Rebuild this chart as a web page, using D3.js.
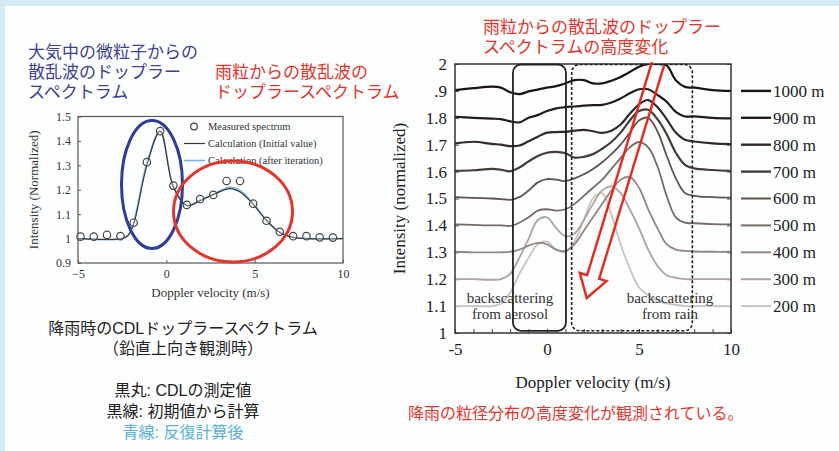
<!DOCTYPE html>
<html>
<head>
<meta charset="utf-8">
<script src="https://cdn.jsdelivr.net/npm/d3@7"></script>
<style>
  html, body { margin: 0; padding: 0; background: #d4eaf4; }
  svg { display: block; }
  .serif { font-family: "Liberation Serif", "DejaVu Serif", serif; }
  .jp { font-family: "Liberation Sans", "Noto Sans CJK JP", sans-serif; }
</style>
</head>
<body>
<div id="chart"></div>
<script>
// 左図: 降雨時のCDLドップラースペクトラム
const leftVel = [-4.86, -4.11, -3.36, -2.6, -1.85, -1.1, -0.35, 0.4, 1.16, 1.91,
                 2.66, 3.41, 4.17, 4.92, 5.67, 6.42, 7.18, 7.93, 8.68, 9.43];
const leftMeasured = [1.008, 1.008, 1.015, 1.01, 1.065, 1.313, 1.44, 1.217, 1.138, 1.162,
                      1.179, 1.236, 1.236, 1.143, 1.073, 1.028, 1.01, 1.01, 1.005, 1.004];
const initVel = [-5, -2.5, -2.2, -1.85, -1.1, -0.35, 0.4, 1.16, 1.91, 2.66, 3.6, 4.2, 4.92, 5.67, 6.42, 7.2, 8, 10];
const initVal = [1.0, 1.0, 1.01, 1.06, 1.3, 1.44, 1.21, 1.135, 1.155, 1.18, 1.205, 1.19, 1.14, 1.075, 1.025, 1.005, 1.0, 1.0];
const iterVel = [-5, -2.5, -2.1, -1.85, -1.1, -0.35, 0.4, 1.16, 1.91, 2.66, 3.6, 4.2, 4.92, 5.67, 6.42, 7.2, 8, 10];
const iterVal = [1.0, 1.0, 1.02, 1.065, 1.31, 1.44, 1.215, 1.137, 1.157, 1.182, 1.21, 1.195, 1.142, 1.075, 1.026, 1.005, 1.0, 1.0];
const leftXTicks = [-5, 0, 5, 10];
const leftYTicks = [0.9, 1, 1.1, 1.2, 1.3, 1.4, 1.5];
const leftLegend = ["Measured spectrum", "Calculation (Initial value)", "Calculation (after iteration)"];

// 右図: 高度別ドップラースペクトラム
const gridVel = [-5, -4, -3, -2.5, -2, -1.5, -1, -0.5, 0, 0.5, 1, 1.5, 2, 2.5, 3, 3.5, 4, 4.5, 5, 5.5, 6, 6.5, 7, 7.5, 8, 9, 10];
const heights = ["1000 m", "900 m", "800 m", "700 m", "600 m", "500 m", "400 m", "300 m", "200 m"];
const baseLevels = [1.9, 1.8, 1.7, 1.6, 1.5, 1.4, 1.3, 1.2, 1.1];
const h1000 = [1.903, 1.91, 1.916, 1.912, 1.895, 1.888, 1.898, 1.905, 1.912, 1.918, 1.928, 1.94, 1.94, 1.928, 1.928, 1.938, 1.952, 1.97, 1.99, 2.0, 2.0, 1.995, 1.94, 1.915, 1.912, 1.903, 1.9];
const h900  = [1.804, 1.8, 1.797, 1.795, 1.787, 1.783, 1.8, 1.81, 1.825, 1.835, 1.84, 1.842, 1.845, 1.847, 1.848, 1.857, 1.872, 1.891, 1.906, 1.906, 1.885, 1.86, 1.822, 1.805, 1.805, 1.8, 1.798];
const h800  = [1.705, 1.711, 1.703, 1.7, 1.695, 1.697, 1.713, 1.73, 1.745, 1.747, 1.748, 1.752, 1.755, 1.75, 1.744, 1.752, 1.775, 1.815, 1.85, 1.866, 1.84, 1.795, 1.745, 1.718, 1.712, 1.705, 1.702];
const h700  = [1.603, 1.605, 1.61, 1.607, 1.601, 1.615, 1.638, 1.658, 1.67, 1.673, 1.668, 1.652, 1.655, 1.665, 1.685, 1.71, 1.745, 1.79, 1.825, 1.83, 1.795, 1.74, 1.67, 1.625, 1.612, 1.606, 1.603];
const h600  = [1.505, 1.502, 1.5, 1.498, 1.495, 1.505, 1.53, 1.56, 1.572, 1.57, 1.565, 1.575, 1.59, 1.61, 1.635, 1.665, 1.7, 1.745, 1.79, 1.8, 1.75, 1.66, 1.575, 1.52, 1.51, 1.505, 1.503];
const h500  = [1.404, 1.402, 1.4, 1.4, 1.398, 1.41, 1.43, 1.455, 1.46, 1.455, 1.46, 1.48, 1.51, 1.54, 1.57, 1.61, 1.65, 1.69, 1.71, 1.69, 1.62, 1.51, 1.43, 1.41, 1.408, 1.405, 1.404];
const h400  = [1.302, 1.3, 1.3, 1.3, 1.302, 1.31, 1.325, 1.335, 1.33, 1.31, 1.305, 1.33, 1.38, 1.43, 1.48, 1.53, 1.57, 1.58, 1.54, 1.46, 1.39, 1.33, 1.31, 1.305, 1.303, 1.302, 1.302];
const h300  = [1.2, 1.2, 1.198, 1.2, 1.22, 1.28, 1.35, 1.42, 1.43, 1.39, 1.36, 1.37, 1.42, 1.48, 1.53, 1.545, 1.52, 1.46, 1.39, 1.31, 1.25, 1.215, 1.205, 1.2, 1.2, 1.2, 1.2];
const h200  = [1.1, 1.1, 1.1, 1.11, 1.15, 1.22, 1.28, 1.33, 1.34, 1.31, 1.3, 1.34, 1.42, 1.5, 1.52, 1.44, 1.33, 1.24, 1.17, 1.14, 1.12, 1.11, 1.105, 1.1, 1.1, 1.1, 1.1];
const heightSeries = [h1000, h900, h800, h700, h600, h500, h400, h300, h200];
const heightColors = ["#1b1512", "#231c19", "#322a26", "#463c37", "#5e534d", "#776b65", "#938782", "#aea39f", "#cac2be"];
const rightXTicks = [-5, 0, 5, 10];
const rightYTicks = [1, 1.1, 1.2, 1.3, 1.4, 1.5, 1.6, 1.7, 1.8, 1.9, 2];
const rightYLabels = ["1", "1.1", "1.2", "1.3", "1.4", "1.5", "1.6", "1.7", "1.8", ".9", "2"];
// 囲み枠と矢印（速度, 強度）
const aerosolBox = [-1.85, 1.03];
const rainBox = [1.34, 7.9];
const arrowFrom = [6.03, 2.0];
const arrowTo = [2.16, 1.13];

const W = 839, H = 451;
const svg = d3.select("#chart").append("svg").attr("width", W).attr("height", H);

// 背景
svg.append("rect").attr("width", W).attr("height", H).attr("fill", "#d4eaf4");
svg.append("rect").attr("x", 5).attr("y", 6).attr("width", W - 5).attr("height", H - 6).attr("fill", "#fdfefe");

// 複数行テキスト（1つの text 要素に tspan で並べる）
function multiline(g, x, y, lines, step, opts) {
  const t = g.append("text").attr("x", x).attr("y", y)
    .attr("font-size", opts.size).attr("text-anchor", opts.anchor || "start");
  lines.forEach((d, i) => {
    const line = Array.isArray(d) ? d : [d, opts.fill];
    t.append("tspan").attr("x", x).attr("y", y + i * step).attr("dy", "0.35em")
      .attr("fill", line[1] || opts.fill).text(line[0]);
  });
  return t;
}

// ---------- 左図 ----------
const xL = d3.scaleLinear().domain([-5, 10]).range([78, 343]);
const yL = d3.scaleLinear().domain([0.9, 1.5]).range([263, 116.5]);
const gL = svg.append("g").attr("class", "serif");

gL.append("g")
  .attr("transform", `translate(0,${yL(0.9)})`)
  .call(d3.axisBottom(xL).tickValues(leftXTicks).tickSizeInner(-3).tickSizeOuter(0).tickPadding(6))
  .call(g => g.select(".domain").remove())
  .call(g => g.selectAll("line").attr("stroke", "#555"))
  .call(g => g.selectAll("text").attr("font-size", 12).attr("fill", "#333").attr("font-family", "Liberation Serif"));

gL.append("g")
  .attr("transform", `translate(${xL(-5)},0)`)
  .call(d3.axisLeft(yL).tickValues(leftYTicks).tickFormat(d3.format("~g")).tickSizeInner(-3).tickSizeOuter(0).tickPadding(7))
  .call(g => g.select(".domain").remove())
  .call(g => g.selectAll("line").attr("stroke", "#555"))
  .call(g => g.selectAll("text").attr("font-size", 12).attr("fill", "#333").attr("font-family", "Liberation Serif"));

gL.append("rect")
  .attr("x", xL(-5)).attr("y", yL(1.5))
  .attr("width", xL(10) - xL(-5)).attr("height", yL(0.9) - yL(1.5))
  .attr("fill", "none").attr("stroke", "#555").attr("stroke-width", 1.2);

gL.append("text").attr("x", (xL(-5) + xL(10)) / 2).attr("y", 297)
  .attr("text-anchor", "middle").attr("font-size", 13).attr("fill", "#333")
  .text("Doppler velocity (m/s)");
gL.append("text")
  .attr("transform", `translate(38,${(yL(0.9) + yL(1.5)) / 2}) rotate(-90)`)
  .attr("text-anchor", "middle").attr("font-size", 13).attr("fill", "#333")
  .text("Intensity (Normalized)");

const lineL = d3.line().curve(d3.curveCatmullRom.alpha(0.5)).x(d => xL(d[0])).y(d => yL(d[1]));
gL.append("path").datum(iterVel.map((v, i) => [v, iterVal[i]]))
  .attr("d", lineL).attr("fill", "none").attr("stroke", "#6bb7e4").attr("stroke-width", 1.5);
gL.append("path").datum(initVel.map((v, i) => [v, initVal[i]]))
  .attr("d", lineL).attr("fill", "none").attr("stroke", "#3a3a3a").attr("stroke-width", 1.2);

gL.selectAll("circle.pt").data(leftVel.map((v, i) => [v, leftMeasured[i]]))
  .enter().append("circle").attr("class", "pt")
  .attr("cx", d => xL(d[0])).attr("cy", d => yL(d[1])).attr("r", 3.7)
  .attr("fill", "#fff").attr("fill-opacity", 0.3).attr("stroke", "#444").attr("stroke-width", 1.2);

// 凡例
const legY = [126.5, 143.5, 160.5];
gL.append("circle").attr("cx", 194).attr("cy", legY[0]).attr("r", 3.3)
  .attr("fill", "none").attr("stroke", "#444").attr("stroke-width", 1.2);
gL.append("line").attr("x1", 184).attr("x2", 205).attr("y1", legY[1]).attr("y2", legY[1])
  .attr("stroke", "#3a3a3a").attr("stroke-width", 1.2);
gL.append("line").attr("x1", 184).attr("x2", 205).attr("y1", legY[2]).attr("y2", legY[2])
  .attr("stroke", "#6bb7e4").attr("stroke-width", 1.5);
leftLegend.forEach((t, i) => {
  gL.append("text").attr("x", 208).attr("y", legY[i]).attr("dy", "0.35em")
    .attr("font-size", 10.5).attr("fill", "#333").text(t);
});

// 楕円
gL.append("ellipse").attr("cx", 152).attr("cy", 184.5).attr("rx", 30.5).attr("ry", 64)
  .attr("fill", "none").attr("stroke", "#2c3d9c").attr("stroke-width", 3);
gL.append("ellipse").attr("cx", 233).attr("cy", 211.5).attr("rx", 59.5).attr("ry", 50.5)
  .attr("fill", "none").attr("stroke", "#e5352b").attr("stroke-width", 3);

// 左側の見出し
const jp = svg.append("g").attr("class", "jp");
multiline(jp, 28, 52, ["大気中の微粒子からの", "散乱波のドップラー", "スペクトラム"], 20,
  { size: 17, fill: "#3d3f98" });
multiline(jp, 215, 72, ["雨粒からの散乱波の", "ドップラースペクトラム"], 20,
  { size: 17, fill: "#e5352b" });
multiline(jp, 183, 328, ["降雨時のCDLドップラースペクトラム", "（鉛直上向き観測時）"], 20,
  { size: 16, fill: "#222", anchor: "middle" });
multiline(jp, 183, 390, ["黒丸: CDLの測定値", "黒線: 初期値から計算", ["青線: 反復計算後", "#55b1e0"]], 21,
  { size: 16, fill: "#222", anchor: "middle" });

// ---------- 右図 ----------
const xR = d3.scaleLinear().domain([-5, 10]).range([455, 731]);
const yR = d3.scaleLinear().domain([1, 2]).range([333, 64]);
const gR = svg.append("g").attr("class", "serif");

svg.append("clipPath").attr("id", "clipR").append("rect")
  .attr("x", xR(-5)).attr("y", yR(2)).attr("width", xR(10) - xR(-5)).attr("height", yR(1) - yR(2));

gR.append("g")
  .attr("transform", `translate(0,${yR(1)})`)
  .call(d3.axisBottom(xR).tickValues(d3.range(-5, 10.1, 1)).tickFormat(d => rightXTicks.includes(d) ? d : "")
    .tickSizeInner(-4).tickSizeOuter(0).tickPadding(10))
  .call(g => g.select(".domain").remove())
  .call(g => g.selectAll("line").attr("stroke", "#444"))
  .call(g => g.selectAll("text").attr("font-size", 17).attr("fill", "#222").attr("font-family", "Liberation Serif"));

gR.append("g")
  .attr("transform", `translate(${xR(-5)},0)`)
  .call(d3.axisLeft(yR).tickValues(rightYTicks).tickFormat((d, i) => rightYLabels[i])
    .tickSizeInner(-4).tickSizeOuter(0).tickPadding(8))
  .call(g => g.select(".domain").remove())
  .call(g => g.selectAll("line").attr("stroke", "#444"))
  .call(g => g.selectAll("text").attr("font-size", 17).attr("fill", "#222").attr("font-family", "Liberation Serif"));

gR.append("g")
  .attr("transform", `translate(${xR(10)},0)`)
  .call(d3.axisRight(yR).tickValues(rightYTicks).tickFormat("").tickSizeInner(-4).tickSizeOuter(0))
  .call(g => g.select(".domain").remove())
  .call(g => g.selectAll("line").attr("stroke", "#444"));

// 曲線
const lineR = d3.line().curve(d3.curveCatmullRom.alpha(0.5)).x(d => xR(d[0])).y(d => yR(d[1]));
const curves = gR.append("g").attr("clip-path", "url(#clipR)");
heightSeries.slice().reverse().forEach((s, ri) => {
  const i = heightSeries.length - 1 - ri;
  curves.append("path").datum(gridVel.map((v, k) => [v, s[k]]))
    .attr("d", lineR).attr("fill", "none")
    .attr("stroke", heightColors[i]).attr("stroke-width", i < 4 ? 2.2 : 1.8);
});

// 枠
gR.append("rect")
  .attr("x", xR(-5)).attr("y", yR(2))
  .attr("width", xR(10) - xR(-5)).attr("height", yR(1) - yR(2))
  .attr("fill", "none").attr("stroke", "#333").attr("stroke-width", 1.5);

// 囲み（エアロゾル・雨）
gR.append("rect")
  .attr("x", xR(aerosolBox[0])).attr("y", yR(2) + 0.5)
  .attr("width", xR(aerosolBox[1]) - xR(aerosolBox[0])).attr("height", yR(1.01) - yR(2))
  .attr("rx", 8).attr("fill", "none").attr("stroke", "#222").attr("stroke-width", 1.8);
gR.append("rect")
  .attr("x", xR(rainBox[0])).attr("y", yR(2) + 0.5)
  .attr("width", xR(rainBox[1]) - xR(rainBox[0])).attr("height", yR(1.01) - yR(2))
  .attr("rx", 8).attr("fill", "none").attr("stroke", "#222").attr("stroke-width", 1.6)
  .attr("stroke-dasharray", "3,2");

// 矢印（白抜き）
(function () {
  const p0 = [xR(arrowFrom[0]), yR(arrowFrom[1])];
  const p1 = [xR(arrowTo[0]), yR(arrowTo[1])];
  const dx = p1[0] - p0[0], dy = p1[1] - p0[1];
  const len = Math.hypot(dx, dy);
  const ux = dx / len, uy = dy / len;   // 進行方向
  const nx = -uy, ny = ux;              // 法線
  const half = 6.3, headHalf = 14, headLen = 22;
  const at = (t, o) => [p0[0] + ux * t + nx * o, p0[1] + uy * t + ny * o];
  const pts = [at(0, half), at(len - headLen, half), at(len - headLen, headHalf),
               at(len, 0), at(len - headLen, -headHalf), at(len - headLen, -half), at(0, -half)];
  gR.append("path").attr("d", d3.line()(pts))
    .attr("fill", "none").attr("stroke", "#e8271d").attr("stroke-width", 2.4)
    .attr("stroke-linejoin", "miter");
})();

// 注記
multiline(gR, 510, 298, ["backscattering", "from aerosol"], 16, { size: 15, fill: "#333", anchor: "middle" });
multiline(gR, 670, 298, ["backscattering", "from rain"], 16, { size: 15, fill: "#333", anchor: "middle" });

// 凡例（高度）
heights.forEach((h, i) => {
  gR.append("line").attr("x1", 741).attr("x2", 771)
    .attr("y1", yR(baseLevels[i])).attr("y2", yR(baseLevels[i]))
    .attr("stroke", heightColors[i]).attr("stroke-width", i < 4 ? 2.4 : 2);
  gR.append("text").attr("x", 773).attr("y", yR(baseLevels[i])).attr("dy", "0.35em")
    .attr("font-size", 17).attr("fill", "#222").text(h);
});

gR.append("text").attr("x", (xR(-5) + xR(10)) / 2).attr("y", 382).attr("dy", "0.35em")
  .attr("text-anchor", "middle").attr("font-size", 17).attr("fill", "#222")
  .text("Doppler velocity (m/s)");
gR.append("text")
  .attr("transform", `translate(399,${(yR(1) + yR(2)) / 2}) rotate(-90)`)
  .attr("text-anchor", "middle").attr("dy", "0.35em").attr("font-size", 17).attr("fill", "#222")
  .text("Intensity (normalized)");

// 右側の見出し
multiline(jp, 483, 27, ["雨粒からの散乱波のドップラー", "スペクトラムの高度変化"], 20,
  { size: 17, fill: "#e5352b" });
jp.append("text").attr("x", 408).attr("y", 413).attr("dy", "0.35em")
  .attr("font-size", 16).attr("fill", "#e5352b").text("降雨の粒径分布の高度変化が観測されている。");
</script>
</body>
</html>
